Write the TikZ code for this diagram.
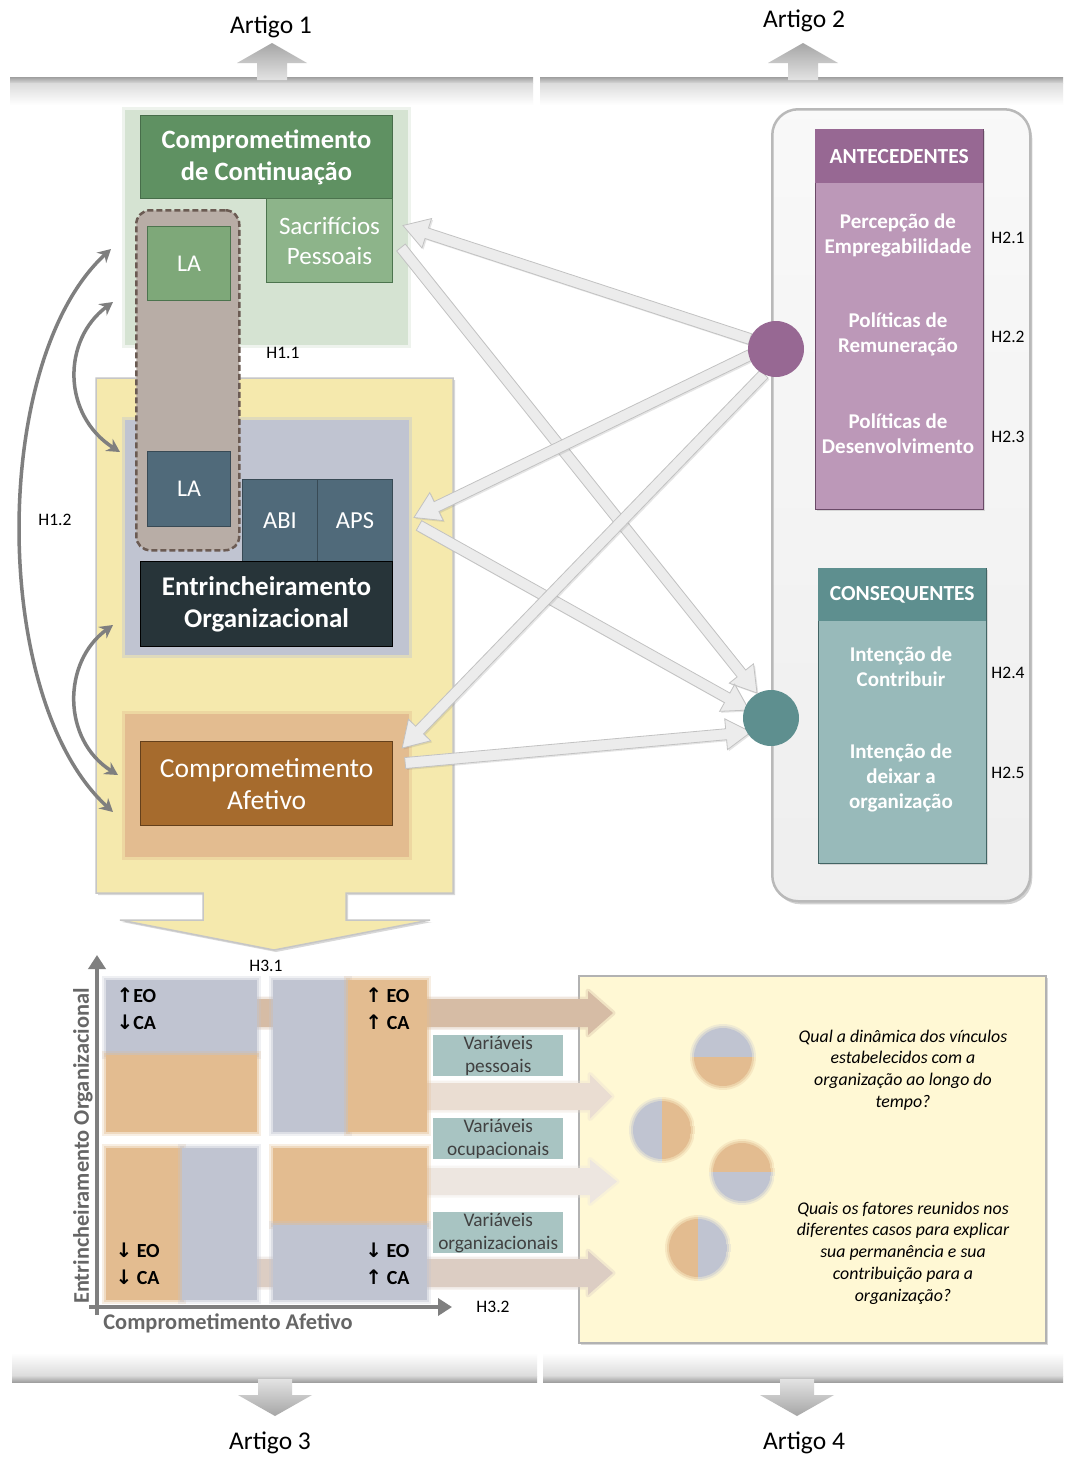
\documentclass[tikz,border=0pt]{standalone}
\usepackage{fontspec}
\setmainfont{Carlito}
\newfontfamily\arrowfont{DejaVu Sans}
\usetikzlibrary{calc,shadows,arrows.meta}

\definecolor{cgreenbg}{HTML}{D5E3D2}
\definecolor{cgreen}{HTML}{5F9162}
\definecolor{cgreenlt}{HTML}{8DB48A}
\definecolor{cgreenla}{HTML}{7EA879}
\definecolor{ctaupe}{HTML}{B8ADA6}
\definecolor{ctaupedk}{HTML}{6B5B53}
\definecolor{cyellow}{HTML}{F5E9AD}
\definecolor{cslate}{HTML}{C0C4D1}
\definecolor{cslatedk}{HTML}{506A7A}
\definecolor{cnavy}{HTML}{273439}
\definecolor{cpeach}{HTML}{E3BC90}
\definecolor{cbrown}{HTML}{A66B2D}
\definecolor{cpurple}{HTML}{976893}
\definecolor{cpurplelt}{HTML}{BC98B8}
\definecolor{cteal}{HTML}{5E8F8F}
\definecolor{ctealt}{HTML}{98BABA}
\definecolor{cvar}{HTML}{A8C4C2}
\definecolor{cvartext}{HTML}{404040}
\definecolor{ccream}{HTML}{FFF8D4}
\definecolor{cpanel}{HTML}{EDEDED}
\definecolor{carrowfill}{HTML}{ECECEC}
\definecolor{carrowedge}{HTML}{C2C2C2}
\definecolor{cgarrow}{HTML}{7F7F7F}
\definecolor{cgraytxt}{HTML}{666666}
\definecolor{cband}{HTML}{D6BCA5}
\definecolor{cbandb}{HTML}{EADDD2}
\definecolor{cbandc}{HTML}{EDE6E0}
\definecolor{cbandd}{HTML}{DCCDC3}

\newcommand{\fsz}[2]{\fontsize{#1}{#2}\selectfont}

\tikzset{
  box/.style={rectangle, inner sep=0pt, anchor=north west, align=center, text=white},
  softbg/.style={fill=#1, draw=#1, draw opacity=0.4, line width=6pt},
  hlab/.style={font=\fsz{17.5}{20}, text=black},
  artigo/.style={font=\fsz{25.5}{30}, text=black},
  curv/.style={draw=cgarrow, line width=3.5pt,
    {Stealth[length=13pt,width=14pt]}-{Stealth[length=13pt,width=14pt]}},
  axis/.style={draw=cgarrow, line width=4pt, -{Triangle[length=14pt,width=17pt]}},
  fatarrow/.style={fill=carrowfill, draw=carrowedge, line width=0.8pt,
    drop shadow={opacity=0.2, shadow xshift=1.5pt, shadow yshift=-1.5pt}},
  btext/.style={font=\fsz{21}{25}\bfseries, text=white, align=center},
  varbox/.style={box, fill=cvar, minimum width=130pt, minimum height=41pt,
    text=cvartext, font=\fsz{19.3}{23}},
  qtext/.style={font=\fsz{20}{27}\bfseries, text=black},
  question/.style={font=\fsz{17.8}{21.7}\itshape, align=center, text=black},
  axlabel/.style={font=\fsz{22.4}{26}\bfseries, text=cgraytxt},
  band/.style={fill=#1, draw=#1, draw opacity=0.35, line width=5pt, line join=round}
}

% wide light block arrow between two points
\newcommand{\fatarrow}[2]{%
  \path #1 coordinate (faS) #2 coordinate (faE);
  \coordinate (faH) at ($(faE)!25pt!(faS)$);
  \filldraw[fatarrow] ($(faS)!5.5pt!90:(faE)$) -- ($(faH)!5.5pt!-90:(faS)$)
    -- ($(faH)!15.5pt!-90:(faS)$) -- (faE) -- ($(faH)!15.5pt!90:(faS)$)
    -- ($(faH)!5.5pt!90:(faS)$) -- ($(faS)!5.5pt!-90:(faE)$) -- cycle;}

% rectangle with a soft edge
\newcommand{\softrect}[5]{%
  \fill[#1, opacity=0.25] (#2-4,#3-4) rectangle (#4+4,#5+4);
  \fill[#1, opacity=0.4] (#2-2,#3-2) rectangle (#4+2,#5+2);
  \fill[#1] (#2,#3) rectangle (#4,#5);}

% soft two-colour disc, split horizontally (top / bottom)
\newcommand{\pieH}[4]{%
  \foreach \r/\o in {33/0.25, 31/0.45, 29/1}{%
    \begin{scope}
      \clip (#1,#2) circle (\r);
      \fill[#3, opacity=\o] (#1-\r,#2-\r) rectangle (#1+\r,#2);
      \fill[#4, opacity=\o] (#1-\r,#2) rectangle (#1+\r,#2+\r);
    \end{scope}}}
% soft two-colour disc, split vertically (left / right)
\newcommand{\pieV}[4]{%
  \foreach \r/\o in {33/0.25, 31/0.45, 29/1}{%
    \begin{scope}
      \clip (#1,#2) circle (\r);
      \fill[#3, opacity=\o] (#1-\r,#2-\r) rectangle (#1,#2+\r);
      \fill[#4, opacity=\o] (#1,#2-\r) rectangle (#1+\r,#2+\r);
    \end{scope}}}

% horizontal band ending in an arrow head
\newcommand{\bandarrow}[6]{%
  \filldraw[band=#1] (#4,#2) -- (#5,#2) -- (#5,{(#2+#3)/2-22}) -- (#6,{(#2+#3)/2})
    -- (#5,{(#2+#3)/2+22}) -- (#5,#3) -- (#4,#3) -- cycle;}

% article bars
\newcommand{\topbar}[2]{%
  \shade[top color=gray!75, bottom color=gray!32] (#1,77) rectangle (#2,83);
  \shade[top color=gray!28, bottom color=white] (#1,83) rectangle (#2,105);}
\newcommand{\uparrowshape}[1]{%
  \shade[top color=gray!70, bottom color=gray!22] (#1-15,80) -- (#1-15,63) -- (#1-35,63)
    -- (#1,43) -- (#1+35,63) -- (#1+15,63) -- (#1+15,80) -- cycle;}
\newcommand{\botbar}[2]{%
  \shade[top color=white, bottom color=gray!28] (#1,1353) rectangle (#2,1376);
  \shade[top color=gray!32, bottom color=gray!75] (#1,1376) rectangle (#2,1382);}
\newcommand{\downarrowshape}[1]{%
  \shade[top color=gray!22, bottom color=gray!70] (#1-17,1379) -- (#1-17,1395) -- (#1-37,1395)
    -- (#1,1416) -- (#1+37,1395) -- (#1+17,1395) -- (#1+17,1379) -- cycle;}

\begin{document}
\begin{tikzpicture}[x=1pt,y=-1pt]
\useasboundingbox (0,0) rectangle (1065,1459);
\fill[white] (0,0) rectangle (1065,1459);

% ---------- article bars ----------
\topbar{10}{533}
\topbar{540}{1063}
\uparrowshape{272}
\uparrowshape{803}
\node[artigo] (art1) at (271,27) {Artigo 1};
\node[artigo] (art2) at (804,21) {Artigo 2};

\botbar{12}{537}
\botbar{543}{1063}
\downarrowshape{275}
\downarrowshape{797}
\node[artigo] (art3) at (270,1443) {Artigo 3};
\node[artigo] (art4) at (804,1443) {Artigo 4};

% ---------- commitment / entrenchment block ----------
\node[box, softbg=cgreenbg, minimum width=283pt, minimum height=235pt] (greenbg) at (122,107) {};

\filldraw[fill=cyellow, draw=gray!45, line width=1.5pt,
  drop shadow={opacity=0.3, shadow xshift=2pt, shadow yshift=-2pt}]
  (96,378) -- (453,378) -- (453,893) -- (346,893) -- (346,920) -- (430,920)
  -- (274,950) -- (120,920) -- (203,920) -- (203,893) -- (96,893) -- cycle;

\node[box, softbg=cslate, minimum width=284pt, minimum height=235pt] (slatebg) at (122,417) {};
\node[box, softbg=cpeach, minimum width=284pt, minimum height=143pt] (peachbg) at (122,711) {};

\node[box, fill=cgreen, draw=cgreen!75!black, line width=1pt, minimum width=252pt, minimum height=83pt,
  font=\fsz{26.5}{32}\bfseries] (cctitle) at (140,115) {Comprometimento\\de Continuação};
\node[box, fill=cgreenlt, draw=cgreen!80!black, line width=1pt, minimum width=126pt, minimum height=84pt,
  font=\fsz{25}{30}] (sacr) at (266,198) {Sacrifícios\\Pessoais};

\node[box, draw=ctaupedk, fill=ctaupe, dash pattern=on 6pt off 3pt, line width=2.5pt,
  rounded corners=14pt, minimum width=103pt, minimum height=340pt] (labox) at (135,209) {};
\node[box, fill=cgreenla, draw=cgreen!80!black, line width=1pt, minimum width=83pt, minimum height=74pt,
  font=\fsz{24}{28}] (la1) at (147,226) {LA};
\node[box, fill=cslatedk, draw=cslatedk!70!black, line width=1pt, minimum width=83pt, minimum height=75pt,
  font=\fsz{24}{28}] (la2) at (147,451) {LA};
\node[box, fill=cslatedk, draw=cslatedk!70!black, line width=1pt, minimum width=75pt, minimum height=82pt,
  font=\fsz{24.5}{28}] (abi) at (242,479) {ABI};
\node[box, fill=cslatedk, draw=cslatedk!70!black, line width=1pt, minimum width=75pt, minimum height=82pt,
  font=\fsz{24.5}{28}] (aps) at (317,479) {APS};
\node[box, fill=cnavy, draw=black, line width=1pt, minimum width=252pt, minimum height=85pt,
  font=\fsz{27}{32}\bfseries] (entr) at (140,561) {Entrincheiramento\\Organizacional};
\node[box, fill=cbrown, draw=cbrown!60!black, line width=1.2pt, minimum width=252pt, minimum height=84pt,
  font=\fsz{27.5}{32}] (afet) at (140,741) {Comprometimento\\Afetivo};

\node[hlab] (h11) at (283,353) {H1.1};
\node[hlab] (h12) at (55,520) {H1.2};

% curved hypothesis arrows
\coordinate (c1a) at (111,249);  \coordinate (c1b) at (113,812);
\coordinate (c2a) at (113,302);  \coordinate (c2b) at (120,452);
\coordinate (c3a) at (113,625);  \coordinate (c3b) at (118,775);
\draw[curv] (c1a) .. controls (-10,360) and (-10,700) .. (c1b);
\draw[curv] (c2a) .. controls (62,340) and (62,415) .. (c2b);
\draw[curv] (c3a) .. controls (62,662) and (62,740) .. (c3b);

% ---------- antecedents / consequents panel ----------
\node[box, top color=gray!5, bottom color=gray!13, draw=gray!55, line width=2.5pt, rounded corners=26pt,
  minimum width=258pt, minimum height=792pt,
  drop shadow={opacity=0.35, shadow xshift=2pt, shadow yshift=-3pt}] (panel) at (771,108) {};

\node[box, fill=cpurplelt, draw=cpurple!70!black, line width=0.8pt, minimum width=168pt, minimum height=380pt,
  drop shadow={opacity=0.25, shadow xshift=1.5pt, shadow yshift=-1.5pt}] (antebody) at (815,129) {};
\node[box, fill=cpurple, minimum width=168pt, minimum height=54pt,
  font=\fsz{21.5}{25}\bfseries] (antehead) at (815,129) {ANTECEDENTES};
\node[btext] (emp) at (898,235) {Percepção de\\Empregabilidade};
\node[btext] (rem) at (898,334) {Políticas de\\Remuneração};
\node[btext] (des) at (898,434) {Políticas de\\Desenvolvimento};
\node[hlab] (h21) at (1008,238) {H2.1};
\node[hlab] (h22) at (1008,337) {H2.2};
\node[hlab] (h23) at (1008,437) {H2.3};

\node[box, fill=ctealt, draw=cteal!70!black, line width=0.8pt, minimum width=168pt, minimum height=295pt,
  drop shadow={opacity=0.25, shadow xshift=1.5pt, shadow yshift=-1.5pt}] (consbody) at (818,568) {};
\node[box, fill=cteal, minimum width=168pt, minimum height=53pt,
  font=\fsz{21.5}{25}\bfseries] (conshead) at (818,568) {CONSEQUENTES};
\node[btext] (contrib) at (901,667) {Intenção de\\Contribuir};
\node[btext] (deixar) at (901,778) {Intenção de\\deixar a\\organização};
\node[hlab] (h24) at (1008,673) {H2.4};
\node[hlab] (h25) at (1008,773) {H2.5};

\coordinate (pc) at (776,349);
\coordinate (tc) at (771,718);

% block arrows between the constructs and the two hubs
\fatarrow{($(pc)+(-26,-10)$)}{($(sacr.east)+(10,-15)$)}
\fatarrow{($(sacr.east)+(8,7)$)}{($(tc)+(-14,-25)$)}
\fatarrow{($(pc)+(-26,6)$)}{($(aps.east)+(21,-3)$)}
\fatarrow{($(aps.east)+(26,5)$)}{($(tc)+(-22,-8)$)}
\fatarrow{($(pc)+(-12,25)$)}{($(afet.north east)+(9,7)$)}
\fatarrow{($(afet.north east)+(12,22)$)}{($(tc)+(-20,14)$)}

\node[circle, fill=cpurple, minimum size=56pt, inner sep=0pt] (pcirc) at (pc) {};
\node[circle, fill=cteal, minimum size=56pt, inner sep=0pt] (tcirc) at (tc) {};

% ---------- typology and research questions ----------
\node[box, fill=ccream, draw=gray!60, line width=2pt, minimum width=467pt, minimum height=367pt,
  drop shadow={opacity=0.3, shadow xshift=2pt, shadow yshift=-2pt}] (qbox) at (578,975) {};

\bandarrow{cband}{999}{1027}{250}{588}{613}
\bandarrow{cbandb}{1083}{1110}{420}{590}{612}
\bandarrow{cbandc}{1168}{1195}{420}{590}{617}
\bandarrow{cbandd}{1259}{1287}{250}{588}{613}

\pieH{723}{1057}{cslate}{cpeach}
\pieV{662}{1130}{cslate}{cpeach}
\pieH{742}{1172}{cpeach}{cslate}
\pieV{698}{1248}{cpeach}{cslate}

% quadrants
\softrect{cslate}{106}{980}{257}{1055}
\softrect{cpeach}{106}{1055}{257}{1132}
\softrect{cslate}{273}{980}{348}{1132}
\softrect{cpeach}{348}{980}{427}{1132}
\softrect{cpeach}{106}{1148}{182}{1300}
\softrect{cslate}{182}{1148}{257}{1300}
\softrect{cpeach}{273}{1148}{427}{1225}
\softrect{cslate}{273}{1225}{427}{1300}

\node[qtext, anchor=west, align=left] (q1lab) at (113,1009) {{\arrowfont ↑}EO\\{\arrowfont ↓}CA};
\node[qtext, anchor=east, align=right] (q2lab) at (413,1009) {{\arrowfont ↑} EO\\{\arrowfont ↑} CA};
\node[qtext, anchor=west, align=left] (q3lab) at (112,1264) {{\arrowfont ↓} EO\\{\arrowfont ↓} CA};
\node[qtext, anchor=east, align=right] (q4lab) at (413,1264) {{\arrowfont ↓} EO\\{\arrowfont ↑} CA};

\node[varbox] (vpes) at (433,1035) {Variáveis\\pessoais};
\node[varbox] (vocu) at (433,1118) {Variáveis\\ocupacionais};
\node[varbox] (vorg) at (433,1212) {Variáveis\\organizacionais};

\coordinate (axo) at (97,1315);  \coordinate (axy) at (97,955);
\coordinate (axx0) at (89,1307); \coordinate (axx) at (452,1307);
\draw[axis] (axo) -- (axy);
\draw[axis] (axx0) -- (axx);
\node[axlabel, rotate=90] (ylab) at (83,1146) {Entrincheiramento Organizacional};
\node[axlabel] (xlab) at (228,1323) {Comprometimento Afetivo};

\node[hlab] (h31) at (266,966) {H3.1};
\node[hlab] (h32) at (493,1307) {H3.2};

\node[question] (qa) at (903,1070) {Qual a dinâmica dos vínculos\\estabelecidos com a\\organização ao longo do\\tempo?};
\node[question] (qb) at (903,1253) {Quais os fatores reunidos nos\\diferentes casos para explicar\\sua permanência e sua\\contribuição para a\\organização?};

\end{tikzpicture}
\end{document}
